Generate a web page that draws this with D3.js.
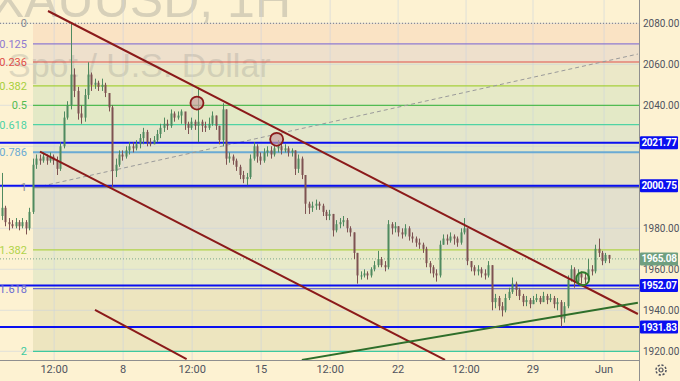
<!DOCTYPE html>
<html><head><meta charset="utf-8">
<script src="https://cdn.jsdelivr.net/npm/d3@7"></script>
<style>html,body{margin:0;padding:0;background:#fdf2d2;}svg{display:block;}</style>
</head><body>
<script>
// ---------- DATA ----------
const firstOpen = 1986;
const closes = [1990,1983,1982,1981,1983,1981,1983,1980,1988,2011,
2014,2013,2015,2013,2015,2013,2009,2020,2034,2040,
2055,2047,2036,2034,2045,2055,2050,2051,2049,2050,
2046,2039,2008,2011,2016,2015,2018,2020,2019,2021,
2024,2027,2022,2021,2023,2026,2029,2031,2030,2036,
2034,2035,2037,2031,2029,2032,2030,2032,2030,2029,
2031,2035,2030,2023,2038,2014,2015,2013,2010,2006,
2004,2005,2014,2020,2015,2013,2017,2018,2016,2019,
2020,2018,2019,2017,2018,2009,2014,2006,1992,1990,
1991,1992,1991,1988,1986,1987,1979,1982,1983,1984,
1980,1978,1968,1957,1957,1958,1957,1960,1962,1965,
1962,1961,1982,1980,1981,1978,1977,1980,1976,1975,
1973,1972,1970,1963,1961,1958,1957,1972,1975,1974,
1976,1975,1973,1978,1980,1964,1961,1959,1960,1958,
1957,1962,1944,1946,1942,1940,1946,1949,1953,1950,
1947,1944,1945,1943,1945,1946,1944,1947,1945,1946,
1943,1944,1936,1942,1955,1960,1954,1958,1956,1955,
1960,1959,1970,1968,1964,1967,1965.08];
const highs = [2007,1991,1985,1984,1985,1984,1985,1984,1990,2014,
2016,2016,2017,2016,2017,2016,2015,2022,2037,2042,
2080,2058,2049,2040,2048,2061,2056,2053,2052,2053,
2051,2046,2040,2014,2018,2018,2020,2022,2022,2023,
2026,2029,2028,2024,2025,2028,2031,2034,2033,2038,
2037,2037,2038,2036,2032,2034,2033,2048,2033,2032,
2034,2037,2035,2030,2041,2038,2017,2016,2014,2011,
2008,2007,2016,2022,2021,2017,2019,2020,2020,2021,
2023,2022,2021,2020,2019,2018,2016,2015,2006,1993,
1993,1994,1993,1992,1989,1989,1987,1984,1985,1986,
1985,1981,1978,1968,1959,1960,1959,1961,1964,1969,
1966,1964,1984,1983,1983,1981,1980,1982,1981,1978,
1976,1975,1973,1971,1964,1962,1960,1974,1977,1977,
1978,1977,1976,1980,1985,1980,1964,1962,1962,1961,
1960,1964,1962,1948,1947,1944,1948,1951,1956,1954,
1951,1948,1947,1946,1947,1948,1947,1949,1948,1948,
1947,1946,1945,1944,1957,1962,1961,1960,1959,1958,
1965,1962,1972,1975,1969,1968,1967];
const lows = [1984,1981,1979,1980,1980,1979,1980,1977,1979,1987,
2009,2011,2012,2011,2012,2011,2006,2008,2019,2033,
2038,2044,2033,2031,2032,2043,2047,2048,2047,2047,
2044,2037,2000,2005,2010,2013,2014,2016,2017,2018,
2019,2021,2020,2020,2021,2022,2024,2027,2028,2029,
2032,2033,2031,2028,2026,2028,2028,2022,2027,2027,
2028,2030,2028,2021,2020,2011,2012,2011,2008,2004,
2002,2001,2004,2013,2012,2011,2012,2015,2014,2015,
2017,2016,2017,2015,2015,2006,2007,2004,1987,1987,
1988,1989,1989,1986,1984,1984,1976,1978,1980,1981,
1978,1976,1965,1953,1955,1956,1955,1956,1959,1961,
1961,1959,1960,1977,1978,1976,1975,1976,1974,1973,
1971,1970,1968,1961,1958,1956,1954,1956,1972,1972,
1973,1972,1971,1972,1977,1962,1959,1957,1957,1956,
1955,1956,1940,1941,1940,1937,1939,1945,1948,1947,
1945,1942,1942,1941,1943,1944,1943,1944,1943,1944,
1941,1940,1932,1934,1941,1954,1951,1953,1953,1953,
1954,1957,1958,1966,1962,1963,1963];

const xTickLabels = ["12:00","8","12:00","15","12:00","22","12:00","29","Jun"];
const xTickBars = [15.2,35.2,55.2,75.2,95.2,114.9,134.6,154.0,174.6];
const yTicks = [1920,1940,1960,1980,2000,2020,2040,2060,2080];

const fibRatios = [0,0.125,0.236,0.382,0.5,0.618,0.786,1,1.382,1.618,2];
const fibLabels = ["0","0.125","0.236","0.382","0.5","0.618","0.786","1","1.382","1.618","2"];
const fibStart = 2080, fibEnd = 2000;

const levelLines = [2021.77, 2000.75, 1952.07, 1931.83];
const lastPrice = 1965.08;

// trend lines: [bar1, price1, bar2, price2]
const redLines = [[13.42,2086.0,184.4,1938.2],[11.1,2017.4,128.5,1915.8],[27.04,1940.2,53.6,1916.2]];
const greenLine = [87.0,1915.8,184.4,1943.7];
const dashLine = [11.7,2000.6,184.4,2065.0];
const redCircles = [[56.6,2041.1],[79.7,2023.4]];
const greenCircles = [[168.4,1955.4]];

// ---------- STYLE / LAYOUT ----------
const W = 680, H = 381, plotR = 639, plotB = 360, fibX0 = 33;
const fibColors = ["#8a8c94","#8f7ad0","#e0504a","#a6cf3c","#52bb52","#4fd3a4","#6aaad4","#8a8c94","#b0d24a","#6b6bd0","#3ec9a0"];
const zoneFills = ["#fae3c4","#eee0cc","#ebe8c8","#e6e9c7","#e3e9c6","#e4e6cb","#e6e1cb","#e3e0cd","#e8eac9","#ede5bf"];
const upC = "#4f8a5f", downC = "#7e5252";

const svg = d3.select("body").append("svg").attr("width",W).attr("height",H)
  .style("font-family","Roboto, 'Liberation Sans', sans-serif");
svg.append("rect").attr("width",W).attr("height",H).attr("fill","#fdf2d2");

const x = d3.scaleLinear().domain([0,1]).range([1.7,5.15]);
const y = d3.scaleLinear().domain([1920,2080]).range([351.3,23.3]);

svg.append("defs").append("clipPath").attr("id","plot").append("rect")
  .attr("x",0).attr("y",0).attr("width",plotR).attr("height",plotB);
const g = svg.append("g").attr("clip-path","url(#plot)");

// fib zones
const fibVals = fibRatios.map(r => fibStart - r*(fibStart-fibEnd));
for (let k=0;k<fibVals.length-1;k++){
  g.append("rect").attr("x",fibX0).attr("width",plotR-fibX0)
    .attr("y",y(fibVals[k])).attr("height",y(fibVals[k+1])-y(fibVals[k]))
    .attr("fill",zoneFills[k]);
}

// watermark (drawn inside plot clip, like the chart's own watermark)
g.append("text").attr("x",291).attr("y",17).attr("text-anchor","end")
  .attr("font-size",50).attr("font-family","'Liberation Sans', Arial, sans-serif")
  .attr("fill","#9a9a92").attr("opacity",0.38).text("XAUUSD, 1H");
g.append("text").attr("x",8).attr("y",77)
  .attr("font-size",34).attr("font-family","'Liberation Sans', Arial, sans-serif")
  .attr("fill","#9a9a92").attr("opacity",0.3).text("Spot / U.S. Dollar");

// grid
g.selectAll(".hg").data(yTicks).enter().append("line")
  .attr("x1",0).attr("x2",plotR).attr("y1",d=>y(d)).attr("y2",d=>y(d))
  .attr("stroke","#c9d3e0").attr("stroke-opacity",0.55).attr("stroke-width",1);
g.selectAll(".vg").data(xTickBars).enter().append("line")
  .attr("y1",0).attr("y2",plotB).attr("x1",d=>x(d)).attr("x2",d=>x(d))
  .attr("stroke","#c9d3e0").attr("stroke-opacity",0.55).attr("stroke-width",1);

// fib lines & labels
fibVals.forEach((v,k)=>{
  const ln = g.append("line").attr("x1",k===0?0:fibX0).attr("x2",plotR)
    .attr("y1",y(v)).attr("y2",y(v)).attr("stroke",fibColors[k])
    .attr("stroke-width",(k===6||k===7)?2:1.2);
  if(k===0) ln.attr("stroke-dasharray","1,2");
  svg.append("text").attr("x",27).attr("y",y(v)+4).attr("text-anchor","end")
    .attr("font-size",11).attr("fill",fibColors[k]).text(fibLabels[k]);
});

// last price dotted line
g.append("line").attr("x1",0).attr("x2",plotR).attr("y1",y(lastPrice)).attr("y2",y(lastPrice))
  .attr("stroke","#7da88c").attr("stroke-width",1).attr("stroke-dasharray","1,2");

// dashed gray line
g.append("line").attr("x1",x(dashLine[0])).attr("y1",y(dashLine[1]))
  .attr("x2",x(dashLine[2])).attr("y2",y(dashLine[3]))
  .attr("stroke","#9a9a9a").attr("stroke-width",1).attr("stroke-dasharray","4,3");

// blue levels
levelLines.forEach(v=>{
  g.append("line").attr("x1",0).attr("x2",plotR).attr("y1",y(v)).attr("y2",y(v))
    .attr("stroke","#0a0ff0").attr("stroke-width",2);
});

// candles
const n = closes.length;
for (let i=0;i<n;i++){
  const o = i===0?firstOpen:closes[i-1], c = closes[i];
  const col = c>=o?upC:downC;
  const cx = Math.round(x(i))+0.5;
  g.append("line").attr("x1",cx).attr("x2",cx).attr("y1",y(highs[i])).attr("y2",y(lows[i]))
    .attr("stroke",col).attr("stroke-width",1);
  const t = Math.min(y(o),y(c)), b = Math.max(y(o),y(c));
  g.append("rect").attr("x",cx-1).attr("width",2).attr("y",t).attr("height",Math.max(1,b-t))
    .attr("fill",col);
}

// trend lines
redLines.forEach(l=>{
  g.append("line").attr("x1",x(l[0])).attr("y1",y(l[1])).attr("x2",x(l[2])).attr("y2",y(l[3]))
    .attr("stroke","#8b1a1a").attr("stroke-width",2);
});
g.append("line").attr("x1",x(greenLine[0])).attr("y1",y(greenLine[1]))
  .attr("x2",x(greenLine[2])).attr("y2",y(greenLine[3]))
  .attr("stroke","#2e6e2a").attr("stroke-width",2);

redCircles.forEach(c=>{
  g.append("circle").attr("cx",x(c[0])).attr("cy",y(c[1])).attr("r",6.5)
    .attr("fill","#c9a0a0").attr("fill-opacity",0.7).attr("stroke","#8b1a1a").attr("stroke-width",1.8);
});
greenCircles.forEach(c=>{
  g.append("circle").attr("cx",x(c[0])).attr("cy",y(c[1])).attr("r",6.5)
    .attr("fill","none").attr("stroke","#2e7a2a").attr("stroke-width",1.8);
});

// axes frame
svg.append("line").attr("x1",plotR+0.5).attr("x2",plotR+0.5).attr("y1",0).attr("y2",H)
  .attr("stroke","#8f8f8f").attr("stroke-width",1);
svg.append("line").attr("x1",0).attr("x2",plotR).attr("y1",plotB+0.5).attr("y2",plotB+0.5)
  .attr("stroke","#8f8f8f").attr("stroke-width",1);

// x tick labels
svg.selectAll(".xl").data(xTickBars).enter().append("text")
  .attr("x",d=>x(d)).attr("y",373).attr("text-anchor","middle")
  .attr("font-size",11).attr("fill","#50535e").text((d,i)=>xTickLabels[i]);

// y tick labels (skip ones hidden by price labels)
const tagVals = levelLines.concat([lastPrice]);
yTicks.filter(t => tagVals.every(v => Math.abs(y(v)-y(t))>8)).forEach(t=>{
  svg.append("text").attr("x",643).attr("y",y(t)+3.5).attr("font-size",10)
    .attr("fill","#50535e").text(d3.format(".2f")(t));
});

// price tags
function tag(v,fill){
  svg.append("rect").attr("x",640).attr("y",y(v)-6.5).attr("width",38).attr("height",13)
    .attr("fill",fill).attr("rx",1);
  svg.append("text").attr("x",659).attr("y",y(v)+3.5).attr("text-anchor","middle")
    .attr("font-size",10).attr("font-weight","bold").attr("letter-spacing","-0.3")
    .attr("fill","#ffffff").text(d3.format(".2f")(v));
}
levelLines.forEach(v=>tag(v,"#0a0ff0"));
tag(lastPrice,"#6f9f80");

// gear icon
const gear = svg.append("g").attr("transform","translate(661,370)");
gear.append("circle").attr("r",5).attr("fill","none").attr("stroke","#50535e").attr("stroke-width",1.5)
  .attr("stroke-dasharray","2.2,1.7");
gear.append("circle").attr("r",2).attr("fill","none").attr("stroke","#50535e").attr("stroke-width",1.2);
</script>
</body></html>
